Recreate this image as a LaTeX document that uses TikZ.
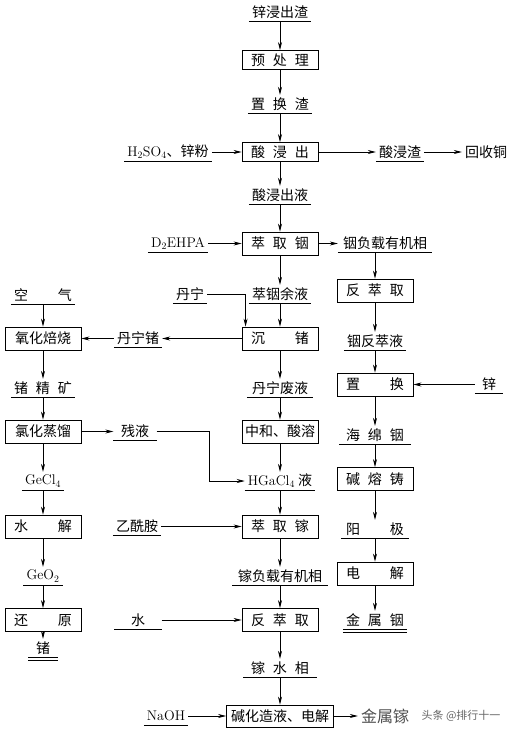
\documentclass[tikz,border=0pt]{standalone}
\usepackage{fontspec}
\newfontfamily\cjk{Noto Sans CJK SC}
\usetikzlibrary{arrows.meta}
\newcommand\duo[2]{#1\hspace{30pt}#2}
\newcommand\trio[3]{#1\hspace{8pt}#2\hspace{8pt}#3}
\tikzset{
  proc/.style={draw,line width=.9pt,minimum width=76pt,minimum height=23pt,inner sep=0pt},
  mat/.style={inner xsep=3pt,inner ysep=0pt,minimum height=18pt},
  arr/.style={-{Stealth[length=8pt,width=4pt]},line width=.7pt},
}
\begin{document}
\begin{tikzpicture}[x=1pt,y=-1pt,font=\cjk\fontsize{14}{16}\selectfont]
	\useasboundingbox (0,0) rectangle (527,733);
	% main column
	\node[mat] (znres) at (280,12) {锌浸出渣};
	\node[proc,minimum height=19pt] (pre) at (280,60) {\trio{预}{处}{理}};
	\node[mat] (repres) at (280,104) {\trio{置}{换}{渣}};
	\node[proc,minimum height=19pt] (leach) at (280,152) {\trio{酸}{浸}{出}};
	\node[mat] (hso) at (168,152) {\textrm{H\textsubscript{2}SO\textsubscript{4}}、锌粉};
	\node[mat] (acidres) at (400,152) {酸浸渣};
	\node[inner xsep=3pt] (cu) at (486,152) {回收铜};
	\node[mat] (leachliq) at (280,195) {酸浸出液};
	\node[proc] (extin) at (280,243.5) {\trio{萃}{取}{铟}};
	\node[mat] (dehpa) at (178,243.5) {\textrm{D\textsubscript{2}EHPA}};
	\node[mat,minimum width=94pt] (inorg) at (385,243.5) {铟负载有机相};
	\node[mat] (raff) at (280,294) {萃铟余液};
	\node[mat] (tannin) at (190,294) {丹宁};
	\node[proc] (prec) at (280,338.5) {\duo{沉}{锗}};
	\node[mat] (tange) at (138,338.5) {丹宁锗};
	\node[mat,minimum width=66pt] (tanwaste) at (280,388) {丹宁废液};
	\node[proc] (neut) at (280,431.5) {中和、酸溶};
	\node[mat] (hgacl) at (280,481) {\textrm{HGaCl\textsubscript{4}} 液};
	\node[proc] (extga) at (280,526.5) {\trio{萃}{取}{镓}};
	\node[mat] (acet) at (137,526.5) {乙酰胺};
	\node[mat,minimum width=95pt] (gaorg) at (280,576) {镓负载有机相};
	\node[proc] (stripga) at (280,620) {\trio{反}{萃}{取}};
	\node[mat,minimum width=47pt] (water) at (138,620) {水};
	\node[mat,minimum width=73pt] (gaaq) at (280,668) {\trio{镓}{水}{相}};
	\node[proc,minimum width=107pt,minimum height=22pt] (final) at (280,716) {碱化造液、电解};
	\node[mat] (naoh) at (166,716) {\textrm{NaOH}};
	\node[inner xsep=3pt,text=black!70,font=\cjk\fontsize{16}{18}\selectfont] (ga) at (385,716) {金属镓};
	\node[text=black!60,font=\cjk\fontsize{11}{13}\selectfont] (wm) at (461,716) {头条 @排行十一};
	% left column
	\node[mat] (air) at (43,295) {\duo{空}{气}};
	\node[proc] (roast) at (43,338.5) {氧化焙烧};
	\node[mat] (geconc) at (43,388) {\trio{锗}{精}{矿}};
	\node[proc] (chlor) at (43,431.5) {氯化蒸馏};
	\node[mat,minimum width=43pt] (resid) at (135,431.5) {残液};
	\node[mat] (gecl) at (43,481) {\textrm{GeCl\textsubscript{4}}};
	\node[proc] (hydro) at (43,526.5) {\duo{水}{解}};
	\node[mat] (geo) at (43,576) {\textrm{GeO\textsubscript{2}}};
	\node[proc] (red) at (43,620) {\duo{还}{原}};
	\node[mat,minimum width=29pt] (ge) at (43,648) {锗};
	% right column
	\node[proc] (stripin) at (375,290.5) {\trio{反}{萃}{取}};
	\node[mat] (instrip) at (375,341) {铟反萃液};
	\node[proc] (cement) at (375,384.5) {\duo{置}{换}};
	\node[mat,minimum width=28pt] (zn) at (489,384.5) {锌};
	\node[mat,minimum width=71pt] (sponge) at (375,435) {\trio{海}{绵}{铟}};
	\node[proc] (cast) at (375,479) {\trio{碱}{熔}{铸}};
	\node[mat,minimum width=68pt] (anode) at (375,529) {\duo{阳}{极}};
	\node[proc] (elec) at (375,573.5) {\duo{电}{解}};
	\node[mat] (inmetal) at (375,620) {\trio{金}{属}{铟}};
	\coordinate (rbend) at (209,431.5);
	% underlines
	\foreach \n in {znres,repres,hso,acidres,leachliq,dehpa,inorg,raff,tannin,tange,tanwaste,hgacl,acet,gaorg,water,gaaq,naoh,air,geconc,resid,gecl,geo,instrip,zn,sponge,anode}
	    \draw[line width=.8pt] (\n.south west)--(\n.south east);
	\foreach \n in {inmetal,ge}{
	    \draw[line width=.7pt] (\n.south west)--(\n.south east);
	    \draw[line width=.7pt] ([yshift=-3pt]\n.south west)--([yshift=-3pt]\n.south east);}
	% vertical flow
	\foreach \a/\b in {znres/pre,pre/repres,repres/leach,leach/leachliq,leachliq/extin,extin/raff,raff/prec,prec/tanwaste,tanwaste/neut,neut/hgacl,hgacl/extga,extga/gaorg,gaorg/stripga,stripga/gaaq,gaaq/final,
	    air/roast,roast/geconc,geconc/chlor,chlor/gecl,gecl/hydro,hydro/geo,geo/red,red/ge,
	    stripin/instrip,instrip/cement,cement/sponge,sponge/cast,cast/anode,anode/elec,elec/inmetal}
	    \draw[arr] (\a.south)--(\b.north);
	\draw[arr] (inorg.south -| stripin.north)--(stripin.north);
	% side flows
	\draw[arr] (hso.east)--(leach.west);
	\draw[arr] (leach.east)--(acidres.west);
	\draw[arr] (acidres.east)--(cu.west);
	\draw[arr] (dehpa.east)--(extin.west);
	\draw[arr] (extin.east)--(inorg.west);
	\draw[arr] (tannin.east) -| ([xshift=4pt]prec.north west);
	\draw[arr] (prec.west)--(tange.east);
	\draw[arr] (tange.west)--(roast.east);
	\draw[arr] (zn.west)--(cement.east);
	\draw[arr] (chlor.east)--(resid.west);
	\draw[arr] (resid.east)--(rbend) |- (hgacl.west);
	\draw[arr] (acet.east)--(extga.west);
	\draw[arr] (water.east)--(stripga.west);
	\draw[arr] (naoh.east)--(final.west);
	\draw[arr] (final.east)--(ga.west);
\end{tikzpicture}
\end{document}
